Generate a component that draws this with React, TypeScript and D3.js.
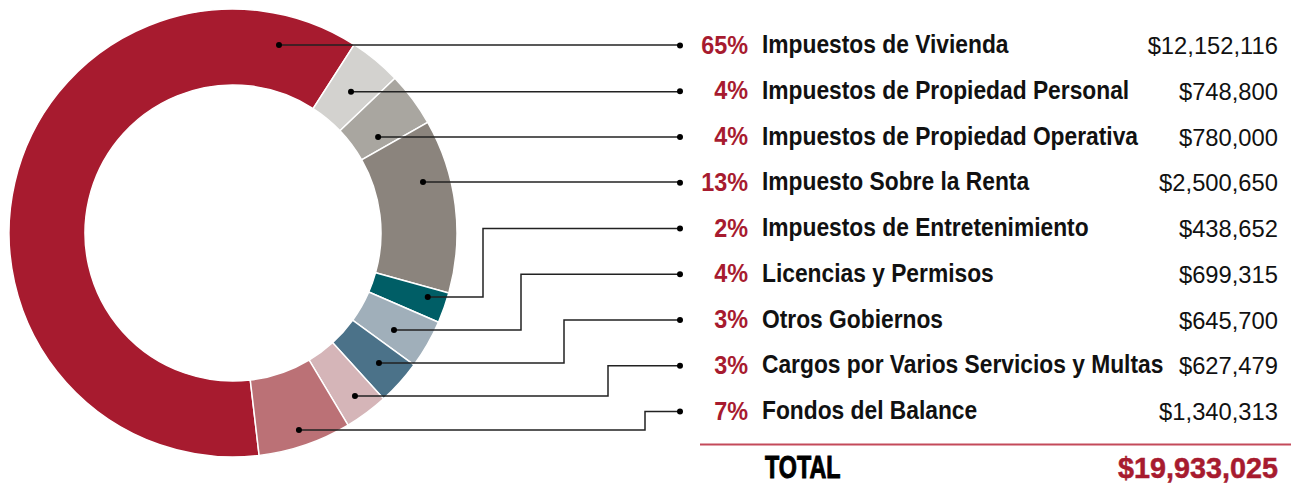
import React from "react";
import * as d3 from "d3";

const categories = [
  "Impuestos de Vivienda",
  "Impuestos de Propiedad Personal",
  "Impuestos de Propiedad Operativa",
  "Impuesto Sobre la Renta",
  "Impuestos de Entretenimiento",
  "Licencias y Permisos",
  "Otros Gobiernos",
  "Cargos por Varios Servicios y Multas",
  "Fondos del Balance",
];
const amounts = [12152116, 748800, 780000, 2500650, 438652, 699315, 645700, 627479, 1340313];
const percentLabels = ["65%", "4%", "4%", "13%", "2%", "4%", "3%", "3%", "7%"];
const totalLabel = "$19,933,025";

// layout / style (not data)
const colors = ["#A71B2F", "#D3D2CF", "#A9A6A0", "#8B847D", "#005E66", "#A0AFBA", "#4B7289", "#D5B5B8", "#BB7176"];
const anchorAngles = [13.75, 39.9, 56.5, 75.0, 108.2, 121.1, 131.7, 143.2, 161.5];
const anchorRadii = [193.5, 184, 174, 196.7, 205, 188, 195.5, 203.6, 207.8];
const elbowX = [null, null, null, null, 483, 521, 564, 608, 645];

const W = 1291, H = 485;
const cx = 233, cy = 233, rOuter = 224, rInner = 148;
const rowY0 = 45.5, rowStep = 45.75;
const lineEndX = 680;
const fmt = d3.format("$,");
const font = "'Liberation Sans', Arial, sans-serif";

export default function App() {
  const pie = d3
    .pie<number>()
    .sort(null)
    .value((d) => d)
    .startAngle((173.3 * Math.PI) / 180)
    .endAngle((173.3 * Math.PI) / 180 + 2 * Math.PI);
  const arcs = pie(amounts);
  const arc = d3.arc<d3.PieArcDatum<number>>().innerRadius(rInner).outerRadius(rOuter);
  const rowY = d3.scaleLinear().domain([0, 1]).range([rowY0, rowY0 + rowStep]);

  return (
    <svg width={W} height={H} style={{ position: "absolute", left: 0, top: 0 }}>
      <g transform={`translate(${cx},${cy})`}>
        {arcs.map((a, i) => (
          <path key={i} d={arc(a) || ""} fill={colors[i]} stroke="#fff" strokeWidth={1.5} />
        ))}
      </g>
      {categories.map((c, i) => {
        const ang = (anchorAngles[i] * Math.PI) / 180;
        const ax = cx + anchorRadii[i] * Math.sin(ang);
        const ay = cy - anchorRadii[i] * Math.cos(ang);
        const y = rowY(i);
        const ex = elbowX[i];
        const d = ex == null
          ? `M${ax},${ay}H${lineEndX}`
          : `M${ax},${ay}H${ex}V${y}H${lineEndX}`;
        return (
          <g key={c}>
            <path d={d} fill="none" stroke="#222" strokeWidth={1.5} />
            <circle cx={ax} cy={ay} r={3} fill="#000" />
            <circle cx={lineEndX} cy={y} r={3} fill="#000" />
            <text transform={`translate(748,${y + 8}) scale(0.9,1)`} textAnchor="end" fill="#A71B2F" fontFamily={font} fontWeight="bold" fontSize={26}>
              {percentLabels[i]}
            </text>
            <text transform={`translate(762,${y + 7.5}) scale(0.912,1)`} fill="#111" fontFamily={font} fontWeight="bold" fontSize={25}>
              {c}
            </text>
            <text transform={`translate(1278,${y + 8.5}) scale(0.97,1)`} textAnchor="end" fill="#111" fontFamily={font} fontSize={24.5}>
              {fmt(amounts[i])}
            </text>
          </g>
        );
      })}
      <line x1={700} x2={1291} y1={444.5} y2={444.5} stroke="#C44A5A" strokeWidth={2} />
      <text transform="translate(765,478) scale(0.74,1)" fill="#000" stroke="#000" strokeWidth={1} fontFamily={font} fontWeight="bold" fontSize={31.5}>
        TOTAL
      </text>
      <text transform="translate(1278,478) scale(0.975,1)" textAnchor="end" fill="#A71B2F" stroke="#A71B2F" strokeWidth={0.5} fontFamily={font} fontWeight="bold" fontSize={29.5}>
        {totalLabel}
      </text>
    </svg>
  );
}
